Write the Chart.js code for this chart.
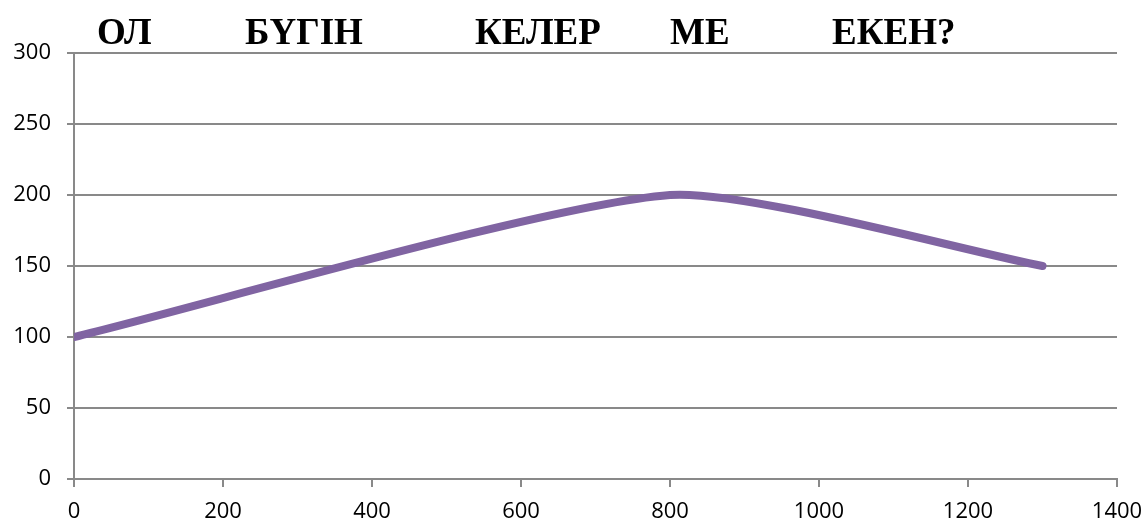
<!DOCTYPE html>
<html>
<head>
<meta charset="utf-8">
<script src="https://cdn.jsdelivr.net/npm/chart.js@4.4.0/dist/chart.umd.min.js"></script>
<style>
  html, body { margin: 0; padding: 0; background: #fff; }
  #wrap { position: relative; width: 1146px; height: 523px; }
  .word {
    position: absolute;
    top: 13px;
    font-family: 'Liberation Serif', 'Times New Roman', serif;
    font-weight: bold;
    font-size: 37px;
    line-height: 37px;
    color: #000;
    white-space: nowrap;
  }
</style>
</head>
<body>
<div id="wrap">
  <canvas id="chart" width="1146" height="523"></canvas>
</div>
<script>
// Data
const xValues = [0, 800, 1300];
const yValues = [100, 200, 150];

// Heading words above the plot, with their left positions
const headingWords = ['ОЛ', 'БҮГІН', 'КЕЛЕР', 'МЕ', 'ЕКЕН?'];
const headingLefts = [97, 245, 475, 670, 832];

const LINE_COLOR = '#8064A2';
const GRID_COLOR = '#898989';

const wrap = document.getElementById('wrap');
headingWords.forEach((w, i) => {
  const el = document.createElement('div');
  el.className = 'word';
  el.textContent = w;
  el.style.left = headingLefts[i] + 'px';
  wrap.appendChild(el);
});

const tickFont = { family: "'Open Sans', sans-serif", size: 22 };

new Chart(document.getElementById('chart'), {
  type: 'scatter',
  data: {
    datasets: [{
      data: xValues.map((x, i) => ({ x, y: yValues[i] })),
      showLine: true,
      borderColor: LINE_COLOR,
      borderWidth: 8,
      borderCapStyle: 'round',
      tension: 0.2,
      pointRadius: 0,
      fill: false
    }]
  },
  options: {
    responsive: false,
    animation: false,
    events: [],
    layout: { padding: { top: 53, right: 29, left: 0, bottom: 0 } },
    plugins: { legend: { display: false }, tooltip: { enabled: false } },
    scales: {
      x: {
        type: 'linear',
        min: 0,
        max: 1400,
        ticks: { stepSize: 200, color: '#000', font: tickFont, padding: 12, maxRotation: 0, callback: v => String(v) },
        grid: { drawOnChartArea: false, color: GRID_COLOR, lineWidth: 2, tickLength: 8 },
        border: { color: GRID_COLOR, width: 2 },
        afterFit: s => { s.height = 44; s.paddingRight = 0; s.paddingLeft = 0; }
      },
      y: {
        min: 0,
        max: 300,
        ticks: { stepSize: 50, color: '#000', font: tickFont, padding: 16, callback: v => String(v) },
        grid: { color: GRID_COLOR, lineWidth: 2, tickLength: 7 },
        border: { color: GRID_COLOR, width: 2 },
        afterFit: s => { s.width = 74; }
      }
    }
  }
});
</script>
</body>
</html>
